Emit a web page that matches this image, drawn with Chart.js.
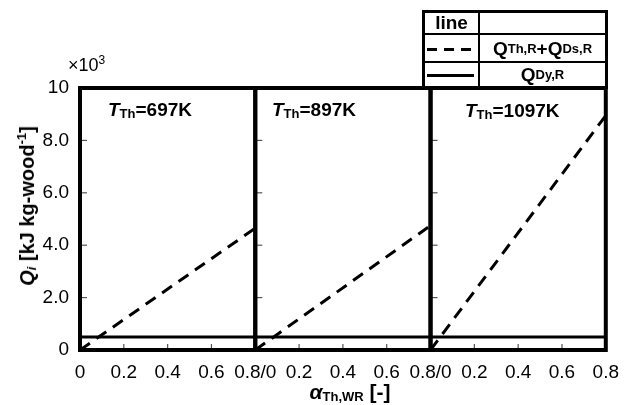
<!DOCTYPE html>
<html>
<head>
<meta charset="utf-8">
<script src="https://cdn.jsdelivr.net/npm/chart.js@4.4.1/dist/chart.umd.min.js"></script>
<style>
  body { margin: 0; background: #fff; }
  #wrap { position: relative; width: 630px; height: 405px; font-family: "Liberation Sans", Arial, sans-serif; color: #000; }
  #chart { position: absolute; left: 0; top: 0; }
  .abs { position: absolute; white-space: nowrap; }
  .lbl { font-weight: bold; font-size: 19px; line-height: 20px; }
  .lbl i { font-style: italic; }
  sub, sup { line-height: 0; }
  .lbl sub { font-size: 13px; vertical-align: -2px; }
  .rule { position: absolute; background: #000; }
  .cell { position: absolute; display: flex; align-items: center; justify-content: center; font-weight: bold; white-space: nowrap; }
  .cell sub { font-size: 13px; vertical-align: -2px; }
</style>
</head>
<body>
<div id="wrap">
  <canvas id="chart" width="630" height="405"></canvas>

  <!-- legend table -->
  <div class="abs" style="left:422px;top:10px;width:186px;height:79px;border:3px solid #000;box-sizing:border-box;"></div>
  <div class="rule" style="left:422px;top:33px;width:186px;height:2px;"></div>
  <div class="rule" style="left:422px;top:61px;width:186px;height:2px;"></div>
  <div class="rule" style="left:478px;top:10px;width:2px;height:78px;"></div>
  <div class="cell" style="left:425px;top:13px;width:53px;height:20px;font-size:19px;">line</div>
  <div class="abs" style="left:427px;top:48px;width:46px;height:3px;background:repeating-linear-gradient(90deg,#000 0 10px,transparent 10px 17px);"></div>
  <div class="abs" style="left:427px;top:74px;width:47px;height:3px;background:#000;"></div>
  <div class="cell" style="left:480px;top:35px;width:125px;height:27px;font-size:19px;">Q<sub>Th,R</sub>+Q<sub>Ds,R</sub></div>
  <div class="cell" style="left:480px;top:63px;width:125px;height:24px;font-size:19px;">Q<sub>Dy,R</sub></div>

  <!-- exponent note -->
  <div class="abs" style="left:68px;top:56px;font-size:18px;line-height:18px;">×10<sup style="font-size:12px;vertical-align:7px;">3</sup></div>

  <!-- panel labels -->
  <div class="abs lbl" id="p0" style="left:108px;top:100px;"></div>
  <div class="abs lbl" id="p1" style="left:272px;top:100px;"></div>
  <div class="abs lbl" id="p2" style="left:465px;top:101px;"></div>

  <!-- axis titles -->
  <div class="abs lbl" style="left:27px;top:206px;font-size:20px;transform:translate(-50%,-50%) rotate(-90deg);">
    <i>Q<sub>i</sub></i> [kJ kg-wood<sup style="font-size:13px;vertical-align:8px;">-1</sup>]
  </div>
  <div class="abs lbl" style="left:350px;top:392px;font-size:21px;transform:translate(-50%,-50%);">
    <i>α</i><sub>Th,WR</sub> [-]
  </div>
</div>

<script>
// data (Q in 10^3 kJ per kg wood)
const alpha = [0, 0.8];
const panelTemps = ['697K', '897K', '1097K'];
const qThDs697 = [0, 4.65];
const qThDs897 = [0, 4.75];
const qThDs1097 = [0, 8.95];
const qDy = [0.5, 0.5];
const xTickLabels = ['0', '0.2', '0.4', '0.6', '0.8/0', '0.2', '0.4', '0.6', '0.8/0', '0.2', '0.4', '0.6', '0.8'];
const yTickLabels = ['0', '2.0', '4.0', '6.0', '8.0', '10'];
const panelWidth = 0.8;

panelTemps.forEach((t, i) => {
  document.getElementById('p' + i).innerHTML = '<i>T</i><sub>Th</sub>=' + t;
});

function points(ys, panel) {
  return alpha.map((a, i) => ({ x: a + panel * panelWidth, y: ys[i] }));
}

const dashed = { borderColor: '#000', borderWidth: 3, borderDash: [12, 8], pointRadius: 0, fill: false };
const solid = { borderColor: '#000', borderWidth: 3, pointRadius: 0, fill: false };

const datasets = [
  { ...dashed, label: 'QTh,R+QDs,R 697K', data: points(qThDs697, 0) },
  { ...dashed, label: 'QTh,R+QDs,R 897K', data: points(qThDs897, 1) },
  { ...dashed, label: 'QTh,R+QDs,R 1097K', data: points(qThDs1097, 2) },
  { ...solid, label: 'QDy,R 697K', data: points(qDy, 0) },
  { ...solid, label: 'QDy,R 897K', data: points(qDy, 1) },
  { ...solid, label: 'QDy,R 1097K', data: points(qDy, 2) }
];

// panel frames and inward tick marks
const framePlugin = {
  id: 'frames',
  afterDatasetsDraw(chart) {
    const { ctx, chartArea: a, scales: { x, y } } = chart;
    ctx.save();
    ctx.strokeStyle = '#555';
    ctx.lineWidth = 1.2;
    for (let p = 0; p < panelTemps.length; p++) {
      const left = x.getPixelForValue(p * panelWidth);
      [2, 4, 6, 8].forEach(v => {
        const py = y.getPixelForValue(v);
        ctx.beginPath(); ctx.moveTo(left, py); ctx.lineTo(left + 7, py); ctx.stroke();
      });
      [0.2, 0.4, 0.6].forEach(v => {
        const px = x.getPixelForValue(p * panelWidth + v);
        ctx.beginPath(); ctx.moveTo(px, a.bottom); ctx.lineTo(px, a.bottom - 6); ctx.stroke();
      });
    }
    ctx.strokeStyle = '#000';
    ctx.lineWidth = 4;
    for (let p = 0; p < panelTemps.length; p++) {
      const l = x.getPixelForValue(p * panelWidth);
      const r = x.getPixelForValue((p + 1) * panelWidth);
      ctx.strokeRect(l, a.top, r - l, a.bottom - a.top);
    }
    ctx.restore();
  }
};

Chart.defaults.font.family = "'Liberation Sans', Arial, sans-serif";
Chart.defaults.font.size = 19;
Chart.defaults.color = '#000';

new Chart(document.getElementById('chart').getContext('2d'), {
  type: 'line',
  data: { datasets },
  options: {
    responsive: false,
    animation: false,
    parsing: false,
    layout: { padding: { top: 88, right: 24, left: 0, bottom: 0 } },
    plugins: { legend: { display: false }, tooltip: { enabled: false } },
    scales: {
      x: {
        type: 'linear',
        min: 0,
        max: panelWidth * panelTemps.length,
        afterFit: s => { s.height = 55; },
        grid: { display: false, drawTicks: false },
        border: { display: false },
        ticks: {
          stepSize: 0.2,
          autoSkip: false,
          maxRotation: 0,
          padding: 11,
          callback: (v, i) => xTickLabels[i]
        }
      },
      y: {
        min: 0,
        max: 10,
        afterFit: s => { s.width = 80; },
        grid: { display: false, drawTicks: false },
        border: { display: false },
        ticks: {
          stepSize: 2,
          padding: 11,
          callback: (v, i) => yTickLabels[i]
        }
      }
    }
  },
  plugins: [framePlugin]
});
</script>
</body>
</html>
